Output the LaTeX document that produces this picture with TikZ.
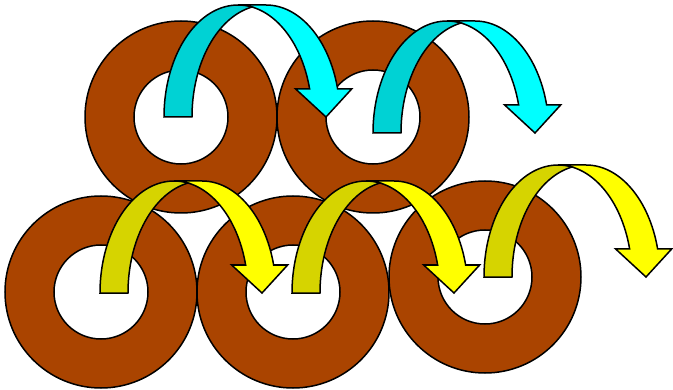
\documentclass[tikz,border=0pt]{standalone}
\usepackage{xcolor}
\usepackage{tikz}
\usetikzlibrary{
  calc
}

\definecolor{ringbrown}{RGB}{170,68,0}
\definecolor{lightcyan}{RGB}{0,255,255}
\definecolor{darkcyan}{RGB}{0,210,212}
\definecolor{lightyellow}{RGB}{255,255,0}
\definecolor{darkyellow}{RGB}{214,212,0}

% curved arrow: #1 = left x, #2 = bottom y, #3 = front colour, #4 = back colour
\newcommand{\curvarrow}[4]{%
  \begin{scope}[shift={(#1,#2)}]
    \filldraw[band,fill=#3] (\tipX,0) -- (\wingL,\headL) -- (\xFive,\headL)
      arc[start angle=\phiA, end angle=90, x radius=\radX, y radius=\hgt]
      -- ++(\bandW,0)
      arc[start angle=90, end angle=\phiA, x radius=\radX, y radius=\hgt]
      -- (\wingR,\headL) -- cycle;
    \filldraw[band,fill=#4] (0,0)
      arc[start angle=180, end angle=\alphaA, x radius=\radX, y radius=\hgt]
      arc[start angle=\betaA, end angle=180, x radius=\radX, y radius=\hgt]
      -- cycle;
  \end{scope}}

\begin{document}
\begin{tikzpicture}[
    x=1pt, y=1pt,
    ring/.style={fill=ringbrown, even odd rule, draw=black, line width=1.5pt},
    band/.style={draw=black, line width=1.5pt, line join=miter}
    ]

    \useasboundingbox (0,0) rectangle (673,389);

    % arrow sizes
    \pgfmathsetmacro{\wid}{190}
    \pgfmathsetmacro{\hgt}{112}
    \pgfmathsetmacro{\bandW}{0.25*\hgt}
    \pgfmathsetmacro{\headW}{0.5*\hgt}
    \pgfmathsetmacro{\headL}{0.25*\hgt}
    \pgfmathsetmacro{\radX}{\wid/2-(\bandW+\headW)/4}
    \pgfmathsetmacro{\phiA}{asin(\headL/\hgt)}
    \pgfmathsetmacro{\dxA}{\radX*cos(\phiA)}
    \pgfmathsetmacro{\xFive}{\radX+\dxA}
    \pgfmathsetmacro{\wingL}{\xFive-(\headW-\bandW)/2}
    \pgfmathsetmacro{\wingR}{\xFive+\bandW+(\headW-\bandW)/2}
    \pgfmathsetmacro{\tipX}{\wid-\headW/2}
    \pgfmathsetmacro{\alphaA}{acos(\bandW/(2*\radX))}
    \pgfmathsetmacro{\betaA}{180-\alphaA}

    % rings
    \draw[ring] (181,272) circle[radius=96] circle[radius=47];
    \draw[ring] (373,272) circle[radius=96] circle[radius=47];
    \draw[ring] (101,97) circle[radius=96] circle[radius=47];
    \draw[ring] (293,97) circle[radius=96] circle[radius=47];
    \draw[ring] (485,112) circle[radius=96] circle[radius=47];

    % arrows
    \curvarrow{164}{272}{lightcyan}{darkcyan}
    \curvarrow{373}{256}{lightcyan}{darkcyan}
    \curvarrow{100}{96}{lightyellow}{darkyellow}
    \curvarrow{292}{96}{lightyellow}{darkyellow}
    \curvarrow{484}{112}{lightyellow}{darkyellow}

\end{tikzpicture}
\end{document}
